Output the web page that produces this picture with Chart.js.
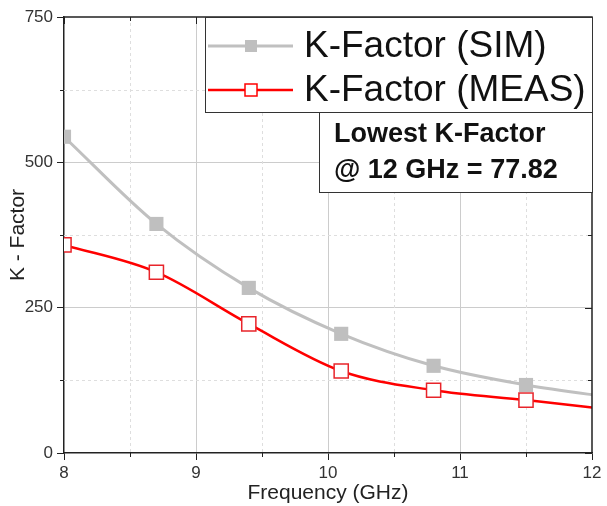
<!DOCTYPE html>
<html>
<head>
<meta charset="utf-8">
<script src="https://cdn.jsdelivr.net/npm/chart.js@4.4.0/dist/chart.umd.min.js"></script>
<style>
  html, body { margin: 0; padding: 0; background: #fff; }
  #wrap { width: 607px; height: 506px; position: relative; }
</style>
</head>
<body>
<div id="wrap"><canvas id="kChart"></canvas></div>
<script>
// values
const freqGHz = [8, 8.7, 9.4, 10.1, 10.8, 11.5, 12.2];
const kFactorSim = [544, 394, 284, 205, 150, 117, 94];
const kFactorMeas = [358, 311, 222, 141, 108, 91, 73];

const xMajorTicks = [8, 9, 10, 11, 12];
const yMajorTicks = [0, 250, 500, 750];
const seriesNames = ["K-Factor (SIM)", "K-Factor (MEAS)"];
const noteLines = ["Lowest K-Factor", "@ 12 GHz = 77.82"];

const FONT = "'Liberation Sans', Arial, sans-serif";
const SIM_COLOR = "#c0c0c0";
const MEAS_COLOR = "#ff0000";

const isMajorX = v => xMajorTicks.includes(Math.round(v * 1000) / 1000);
const isMajorY = v => yMajorTicks.includes(Math.round(v));

// frame, minor grid, inward ticks, legend and note boxes
const framePlugin = {
    id: "frame",
    beforeDatasetsDraw(chart) {
        const { ctx, chartArea: a, scales: { x, y } } = chart;
        ctx.save();
        ctx.strokeStyle = "#dedede";
        ctx.lineWidth = 1;
        ctx.setLineDash([3, 3]);
        x.ticks.forEach(t => {
            if (isMajorX(t.value)) return;
            const px = Math.round(x.getPixelForValue(t.value)) + 0.5;
            ctx.beginPath(); ctx.moveTo(px, a.top); ctx.lineTo(px, a.bottom); ctx.stroke();
        });
        y.ticks.forEach(t => {
            if (isMajorY(t.value)) return;
            const py = Math.round(y.getPixelForValue(t.value)) + 0.5;
            ctx.beginPath(); ctx.moveTo(a.left, py); ctx.lineTo(a.right, py); ctx.stroke();
        });
        ctx.restore();
    },
    afterDraw(chart) {
        const { ctx, chartArea: a, scales: { x, y } } = chart;
        ctx.save();
        ctx.strokeStyle = "#222";
        ctx.lineWidth = 1.5;
        ctx.beginPath();
        ctx.moveTo(a.left, a.top); ctx.lineTo(a.right, a.top); ctx.lineTo(a.right, a.bottom);
        ctx.stroke();

        ctx.lineWidth = 1;
        // minor outward ticks + inward ticks on top/right
        x.ticks.forEach(t => {
            const px = Math.round(x.getPixelForValue(t.value)) + 0.5;
            const len = isMajorX(t.value) ? 7 : 4;
            ctx.beginPath(); ctx.moveTo(px, a.top); ctx.lineTo(px, a.top + len); ctx.stroke();
            if (!isMajorX(t.value)) {
                ctx.beginPath(); ctx.moveTo(px, a.bottom); ctx.lineTo(px, a.bottom + 4); ctx.stroke();
            }
        });
        y.ticks.forEach(t => {
            const py = Math.round(y.getPixelForValue(t.value)) + 0.5;
            const len = isMajorY(t.value) ? 7 : 4;
            ctx.beginPath(); ctx.moveTo(a.right, py); ctx.lineTo(a.right - len, py); ctx.stroke();
            if (!isMajorY(t.value)) {
                ctx.beginPath(); ctx.moveTo(a.left, py); ctx.lineTo(a.left - 4, py); ctx.stroke();
            }
        });

        // legend box
        const lx = 205, ly = a.top, lw = a.right - lx, lh = 95;
        ctx.fillStyle = "#fff";
        ctx.fillRect(lx, ly, lw, lh);
        ctx.strokeStyle = "#333";
        ctx.strokeRect(lx + 0.5, ly + 0.5, lw, lh);

        const rows = [ly + 29, ly + 73];
        ctx.font = "37px " + FONT;
        ctx.textBaseline = "middle";
        rows.forEach((ry, i) => {
            const col = i === 0 ? SIM_COLOR : MEAS_COLOR;
            ctx.strokeStyle = col;
            ctx.lineWidth = i === 0 ? 3 : 2.5;
            ctx.beginPath(); ctx.moveTo(lx + 3, ry); ctx.lineTo(lx + 88, ry); ctx.stroke();
            const cx = lx + 46;
            if (i === 0) {
                ctx.fillStyle = "#bfbfbf";
                ctx.fillRect(cx - 6, ry - 6, 12, 12);
            } else {
                ctx.fillStyle = "#fff";
                ctx.fillRect(cx - 6, ry - 6, 12, 12);
                ctx.lineWidth = 1.5;
                ctx.strokeRect(cx - 6, ry - 6, 12, 12);
            }
            ctx.fillStyle = "#111";
            ctx.fillText(seriesNames[i], lx + 99, ry + 1);
        });

        // note box
        const nx = 319, ny = ly + lh, nw = a.right - nx, nh = 80;
        ctx.fillStyle = "#fff";
        ctx.fillRect(nx, ny, nw, nh);
        ctx.strokeStyle = "#333";
        ctx.lineWidth = 1;
        ctx.strokeRect(nx + 0.5, ny + 0.5, nw, nh);
        ctx.font = "bold 27px " + FONT;
        ctx.fillStyle = "#111";
        ctx.fillText(noteLines[0], nx + 15, ny + 23);
        ctx.fillText(noteLines[1], nx + 15, ny + 59);
        ctx.restore();
    }
};

const ctx = document.getElementById("kChart");
new Chart(ctx, {
    type: "line",
    data: {
        datasets: [
            {
                label: seriesNames[0],
                data: freqGHz.map((f, i) => ({ x: f, y: kFactorSim[i] })),
                borderColor: SIM_COLOR,
                borderWidth: 3,
                pointStyle: "rect",
                pointRadius: 10,
                pointBackgroundColor: "#bfbfbf",
                pointBorderColor: "#bfbfbf",
                pointBorderWidth: 0,
                cubicInterpolationMode: "monotone",
                fill: false
            },
            {
                label: seriesNames[1],
                data: freqGHz.map((f, i) => ({ x: f, y: kFactorMeas[i] })),
                borderColor: MEAS_COLOR,
                borderWidth: 2.5,
                pointStyle: "rect",
                pointRadius: 10,
                pointBackgroundColor: "#fff",
                pointBorderColor: "#e8242a",
                pointBorderWidth: 1.5,
                cubicInterpolationMode: "monotone",
                fill: false
            }
        ]
    },
    options: {
        responsive: true,
        maintainAspectRatio: false,
        animation: false,
        devicePixelRatio: 1,
        layout: { padding: { top: 17, right: 15, left: 0, bottom: 0 } },
        plugins: {
            legend: { display: false },
            tooltip: { enabled: false }
        },
        scales: {
            x: {
                type: "linear",
                min: 8,
                max: 12,
                ticks: {
                    stepSize: 0.5,
                    autoSkip: false,
                    maxRotation: 0,
                    padding: 3,
                    color: "#333",
                    font: { family: FONT, size: 17 },
                    callback: v => isMajorX(v) ? String(v) : ""
                },
                grid: {
                    color: c => isMajorX(c.tick.value) && c.tick.value !== 8 && c.tick.value !== 12 ? "#cccccc" : "rgba(0,0,0,0)",
                    tickColor: c => isMajorX(c.tick.value) ? "#222" : "rgba(0,0,0,0)",
                    tickLength: 7
                },
                border: { color: "#222", width: 1.5 },
                title: {
                    display: true,
                    text: "Frequency (GHz)",
                    color: "#222",
                    font: { family: FONT, size: 21 },
                    padding: { top: 1, bottom: 0 }
                },
                afterFit: s => { s.height = 53; }
            },
            y: {
                min: 0,
                max: 750,
                ticks: {
                    stepSize: 125,
                    autoSkip: false,
                    padding: 4,
                    color: "#333",
                    font: { family: FONT, size: 17 },
                    callback: v => isMajorY(v) ? String(v) : ""
                },
                grid: {
                    color: c => isMajorY(c.tick.value) && c.tick.value !== 0 && c.tick.value !== 750 ? "#cccccc" : "rgba(0,0,0,0)",
                    tickColor: c => isMajorY(c.tick.value) ? "#222" : "rgba(0,0,0,0)",
                    tickLength: 7
                },
                border: { color: "#222", width: 1.5 },
                title: {
                    display: true,
                    text: "K - Factor",
                    color: "#222",
                    font: { family: FONT, size: 21 },
                    padding: { top: 6, bottom: 0 }
                },
                afterFit: s => { s.width = 64; }
            }
        }
    },
    plugins: [framePlugin]
});
</script>
</body>
</html>
